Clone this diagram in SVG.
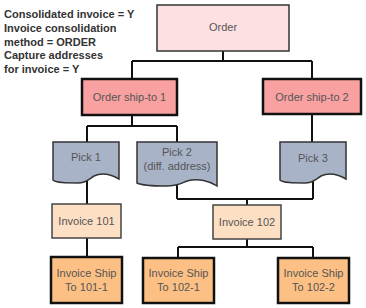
<svg xmlns="http://www.w3.org/2000/svg" width="366" height="308" viewBox="0 0 366 308">
<style>
text{font-family:"Liberation Sans",Arial,sans-serif;font-size:11px;fill:#555;text-anchor:middle}
.note{font-weight:bold;fill:#333;text-anchor:start}
.order{fill:#fde0e2;stroke:#333;stroke-width:1.5}
.ship{fill:#f9a1a1;stroke:#111;stroke-width:2.5}
.pick{fill:#a8b3c8;stroke:#333;stroke-width:1.5}
.inv{fill:#fde0c4;stroke:#444;stroke-width:1.5}
.invship{fill:#fdc084;stroke:#111;stroke-width:2.5}
.conn{fill:none;stroke:#111;stroke-width:2}
</style>
<rect width="366" height="308" fill="#fff"/>
<g id="note">
<text class="note" x="4" y="18">Consolidated invoice = Y</text>
<text class="note" x="4" y="32">Invoice consolidation</text>
<text class="note" x="4" y="46">method = ORDER</text>
<text class="note" x="4" y="59">Capture addresses</text>
<text class="note" x="4" y="73">for invoice = Y</text>
</g>
<g id="connectors">
<path class="conn" d="M223,51 V61 M132,61 H312 M132,61 V79 M312,61 V79"/>
<path class="conn" d="M132,115 V126 M87,126 H177 M87,126 V142 M177,126 V142"/>
<path class="conn" d="M312,114 V142"/>
<path class="conn" d="M87,181 V204"/>
<path class="conn" d="M177,184 V199 M313,179 V199 M177,199 H313 M247,199 V205"/>
<path class="conn" d="M87,238 V257"/>
<path class="conn" d="M247,239 V247 M178,247 H313 M178,247 V258 M313,247 V258"/>
</g>
<g id="order">
<rect class="order" x="157" y="5" width="132" height="46"/>
<text x="223" y="31">Order</text>
</g>
<g id="shipto1">
<rect class="ship" x="82" y="79" width="95" height="36"/>
<text x="129.5" y="101">Order ship-to 1</text>
</g>
<g id="shipto2">
<rect class="ship" x="263" y="79" width="98" height="35"/>
<text x="312" y="101">Order ship-to 2</text>
</g>
<g id="pick1">
<path class="pick" d="M53,142 H119 V179 C112,175 103,172 94,176 C89,179 86,183 78,183 C66,183 56,183 53,180 Z"/>
<text x="86" y="161">Pick 1</text>
</g>
<g id="pick2">
<path class="pick" d="M137,142 H217 V186 C210,181 198,178 187,181 C182,183 178,186 166,186 C152,186 141,185 137,183 Z"/>
<text x="177" y="156">Pick 2</text>
<text x="177" y="170">(diff. address)</text>
</g>
<g id="pick3">
<path class="pick" d="M280,142 H346 V179 C339,175 330,172 321,176 C316,179 313,183 305,183 C293,183 283,183 280,180 Z"/>
<text x="313" y="162">Pick 3</text>
</g>
<g id="invoice101">
<rect class="inv" x="52" y="204" width="69" height="34"/>
<text x="86.5" y="225">Invoice 101</text>
</g>
<g id="invoice102">
<rect class="inv" x="213" y="205" width="68" height="34"/>
<text x="247" y="226">Invoice 102</text>
</g>
<g id="invship1011">
<rect class="invship" x="51" y="257" width="71" height="46"/>
<text x="86.5" y="277">Invoice Ship</text>
<text x="86.5" y="291">To 101-1</text>
</g>
<g id="invship1021">
<rect class="invship" x="143" y="258" width="71" height="45"/>
<text x="178.5" y="277">Invoice Ship</text>
<text x="178.5" y="291">To 102-1</text>
</g>
<g id="invship1022">
<rect class="invship" x="278" y="258" width="71" height="45"/>
<text x="313.5" y="277">Invoice Ship</text>
<text x="313.5" y="291">To 102-2</text>
</g>
</svg>
